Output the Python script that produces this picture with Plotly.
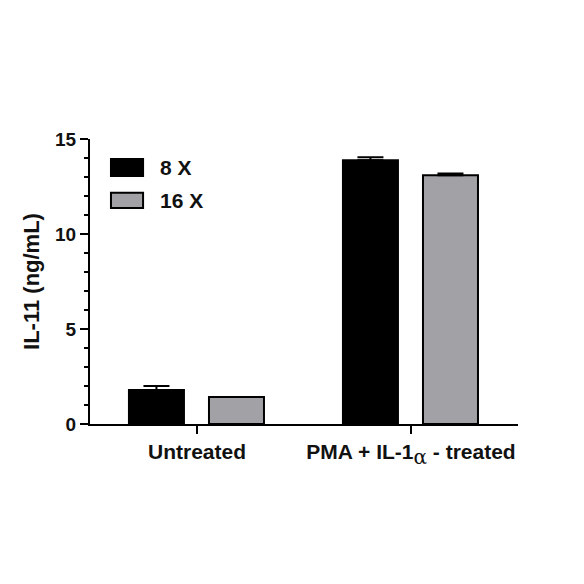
import plotly.graph_objects as go

# values
categories = [
    "Untreated",
    "PMA + IL-1<sub><span style='font-weight:normal;font-family:DejaVu Serif;font-size:20px'>α</span></sub> - treated",
]
series_names = ["8 X", "16 X"]
means_8x = [1.79, 13.88]
means_16x = [1.42, 13.09]
err_8x = [0.21, 0.16]
err_16x = [None, 0.10]
y_ticks = [0, 5, 10, 15]

FONT = "Liberation Sans, Arial, sans-serif"
BLACK = "#000000"
GRAY = "#a2a2a6"
TEXT = "#111111"

fig = go.Figure()

for name, means, errs, color, offset in [
    (series_names[0], means_8x, err_8x, BLACK, -0.318),
    (series_names[1], means_16x, err_16x, GRAY, 0.056),
]:
    fig.add_trace(
        go.Bar(
            x=categories,
            y=means,
            name=name,
            width=0.257,
            offset=offset,
            marker=dict(color=color, line=dict(color=BLACK, width=2)),
            error_y=dict(
                type="data",
                array=errs,
                arrayminus=[0] * len(errs),
                symmetric=False,
                color=BLACK,
                thickness=2,
                width=13,
            ),
            showlegend=False,
        )
    )

# hand-drawn legend (GraphPad style boxes)
legend_rows = [(series_names[0], BLACK, 0.930, 0.870), (series_names[1], GRAY, 0.811, 0.758)]
for label, color, y_top, y_bot in legend_rows:
    fig.add_shape(
        type="rect",
        xref="paper",
        yref="paper",
        x0=0.049,
        x1=0.124,
        y0=y_bot,
        y1=y_top,
        fillcolor=color,
        line=dict(color=BLACK, width=2),
    )
    fig.add_annotation(
        xref="paper",
        yref="paper",
        x=0.158,
        y=(y_top + y_bot) / 2,
        text=f"<b>{label}</b>",
        showarrow=False,
        xanchor="left",
        yanchor="middle",
        font=dict(family=FONT, size=21, color=TEXT),
    )

# page body has an 8px margin, so the figure is a bit smaller than the window
fig.update_layout(
    width=576,
    height=576,
    margin=dict(l=82, r=66, t=131, b=160),
    paper_bgcolor="white",
    plot_bgcolor="white",
    barmode="overlay",
    font=dict(family=FONT, color=TEXT),
)

fig.update_xaxes(
    range=[-0.5, 1.5],
    showline=True,
    linecolor=BLACK,
    linewidth=2,
    ticks="outside",
    ticklen=8,
    tickwidth=2,
    tickcolor=BLACK,
    showgrid=False,
    zeroline=False,
    tickfont=dict(family=FONT, size=21, color=TEXT, weight="bold"),
)

fig.update_yaxes(
    range=[0, 15],
    tickvals=y_ticks,
    showline=True,
    linecolor=BLACK,
    linewidth=2,
    ticks="outside",
    ticklen=8,
    tickwidth=2,
    tickcolor=BLACK,
    minor=dict(dtick=1, ticks="outside", ticklen=4, tickwidth=2, tickcolor=BLACK),
    showgrid=False,
    zeroline=False,
    tickfont=dict(family=FONT, size=19, color=TEXT, weight="bold"),
    title=dict(
        text="<b>IL-11 (ng/mL)</b>",
        font=dict(family=FONT, size=22, color=TEXT),
        standoff=9,
    ),
)

fig.write_html("out.html")
